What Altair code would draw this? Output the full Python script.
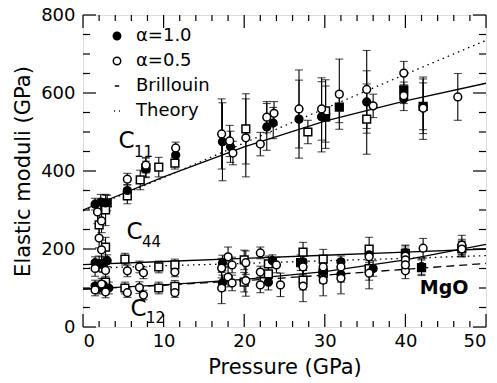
import altair as alt
import pandas as pd

# ---------------- data ----------------
# filled circles (alpha=1.0): C11, C44, C12 groups
fc_p = [1.5, 2.2, 2.8, 5.5, 7.8, 11.5, 17.3, 18.3, 22.8, 23.6, 26.8, 29.6, 35.2, 39.8, 42.2,
        1.5, 2.5, 3.0, 17.3, 23.5, 27.3, 32.0, 35.5, 40.0, 47.0,
        1.5, 2.5, 3.2, 17.3, 23.0, 29.8, 32.0, 36.0, 42.0]
fc_c = [315, 320, 318, 350, 405, 441, 475, 462, 513, 523, 533, 539, 577, 585, 566,
        165, 160, 170, 164, 170, 167, 167, 185, 190, 205,
        105, 108, 100, 113, 115, 141, 135, 150, 155]
fc_e = [15, 20, 20, 15, 20, 15, 100, 40, 60, 40, 100, 90, 80, 30, 70,
        15, 20, 15, 20, 15, 20, 15, 20, 20, 20,
        15, 15, 15, 20, 20, 25, 20, 20, 20]

# open circles (alpha=0.5)
oc_p = [1.8, 2.3, 2.0, 5.5, 7.8, 11.5, 17.2, 18.2, 18.6, 20.2, 22.0, 22.8, 23.7, 26.8, 29.6, 31.8, 35.2, 36.0, 39.8, 39.8, 42.2, 46.5,
        1.5, 2.3, 2.8, 5.5, 7.0, 7.5, 11.4, 17.2, 18.0, 18.5, 20.2, 22.0, 22.0, 24.0, 27.3, 29.8, 32.0, 35.5, 40.0, 40.0, 42.2, 47.0,
        1.5, 2.3, 2.8, 5.5, 7.0, 7.5, 11.4, 17.2, 18.0, 18.5, 20.2, 22.0, 24.5, 27.3, 29.8, 32.0, 35.5, 40.0, 40.0, 47.0]
oc_c = [295, 272, 228, 379, 415, 459, 495, 477, 446, 485, 469, 538, 548, 559, 559, 597, 609, 567, 651, 593, 561, 590,
        150, 198, 145, 144, 154, 139, 141, 151, 180, 159, 165, 190, 141, 159, 154, 154, 154, 180, 182, 172, 202, 210,
        95, 110, 90, 88, 101, 82, 88, 100, 128, 113, 119, 108, 108, 105, 120, 125, 138, 144, 159, 200]
oc_e = [30, 30, 25, 15, 20, 15, 90, 40, 30, 100, 30, 40, 30, 100, 80, 90, 100, 30, 30, 20, 80, 60,
        20, 25, 20, 15, 15, 15, 12, 25, 25, 20, 30, 15, 15, 20, 20, 25, 20, 25, 20, 20, 25, 25,
        15, 15, 15, 12, 15, 12, 12, 40, 25, 20, 40, 20, 30, 40, 40, 40, 40, 20, 20, 20]

# filled squares
fs_p = [3.0, 7.8, 30.1, 31.8, 39.8, 42.2, 2.0, 27.0, 40.0, 2.0, 29.8, 42.0]
fs_c = [318, 408, 538, 564, 608, 566, 162, 165, 188, 100, 138, 152]
fs_e = [20, 25, 80, 40, 20, 60, 20, 20, 20, 15, 25, 20]

# open squares
os_p = [2.8, 2.0, 5.5, 7.1, 9.4, 11.4, 20.2, 27.9, 30.1, 35.2,
        2.8, 5.2, 9.4, 11.4, 20.0, 23.0, 27.3, 29.8, 35.5, 47.0,
        2.8, 5.2, 9.4, 11.4, 20.0, 23.0, 27.3, 29.8, 35.5]
os_c = [300, 262, 336, 377, 410, 420, 508, 500, 554, 533,
        205, 174, 154, 159, 172, 162, 192, 174, 200, 200,
        115, 100, 100, 104, 115, 136, 120, 138, 150]
os_e = [40, 30, 20, 25, 25, 15, 90, 30, 80, 90,
        25, 15, 15, 15, 25, 20, 25, 25, 30, 20,
        15, 15, 15, 15, 25, 20, 25, 25, 30]

# curves
line_p = [0, 10, 20, 30, 40, 50]
c11_fit = [300, 385, 462, 528, 580, 625]
c11_theory = [298, 383, 472, 560, 648, 735]
c44_fit = [160, 168, 176, 184, 192, 200]
c44_theory = [150, 157, 163, 170, 176, 183]
c12_fit = [97, 108, 122, 142, 172, 212]
c12_brillouin = [97, 107, 119, 133, 148, 163]

legend_labels = ["α=1.0", "α=0.5", "Brillouin", "Theory"]

ann_text = ["C", "C", "C"]
ann_p = [5.4, 6.4, 6.9]
ann_c = [478, 244, 46]
sub_text = ["11", "44", "12"]
sub_p = [7.5, 8.5, 9.0]
sub_c = [450, 218, 22]
mgo_text = ["MgO"]
mgo_p = [44.8]
mgo_c = [100]

x_major = [0, 10, 20, 30, 40, 50]
x_minor = [v for v in range(0, 51, 2) if v % 10]
y_major = [0, 200, 400, 600, 800]
y_minor = [v for v in range(0, 801, 50) if v % 200]

# ---------------- tables ----------------
def table(p, c, e, kind, series):
    df = pd.DataFrame({"p": p, "c": c, "e": e})
    df["lo"] = df["c"] - df["e"]
    df["hi"] = df["c"] + df["e"]
    df["kind"] = kind
    df["series"] = series
    return df

fc = table(fc_p, fc_c, fc_e, "fc", "α=1.0")
oc = table(oc_p, oc_c, oc_e, "oc", "α=0.5")
fs = table(fs_p, fs_c, fs_e, "fs", "α=1.0")
osq = table(os_p, os_c, os_e, "os", "α=0.5")
allpts = pd.concat([fc, oc, fs, osq], ignore_index=True)
circles = pd.concat([fc, oc], ignore_index=True)

curve_names = ["c11_fit", "c11_theory", "c44_fit", "c44_theory", "c12_fit", "c12_brillouin"]
curve_vals = [c11_fit, c11_theory, c44_fit, c44_theory, c12_fit, c12_brillouin]
curves = pd.DataFrame({
    "p": [p for _ in curve_names for p in line_p],
    "c": [v for vals in curve_vals for v in vals],
    "curve": [n for n in curve_names for _ in line_p],
})

W, H = 403, 312
FONT = "DejaVu Sans"

xs = alt.Scale(domain=[0, 50], nice=False)
ys = alt.Scale(domain=[0, 800], nice=False)
xaxis = alt.Axis(values=x_major, title="Pressure (GPa)", ticks=False, domain=False, grid=False,
                 labelPadding=5, titlePadding=6, labelFontSize=18, titleFontSize=21,
                 titleFontWeight="normal", labelFont=FONT, titleFont=FONT)
yaxis = alt.Axis(values=y_major, title="Elastic moduli (GPa)", ticks=False, domain=False, grid=False,
                 labelPadding=8, titlePadding=7, labelFontSize=18, titleFontSize=21,
                 titleFontWeight="normal", labelFont=FONT, titleFont=FONT)


def X(f="p"):
    return alt.X(f + ":Q", scale=xs, axis=xaxis)


def Y(f="c"):
    return alt.Y(f + ":Q", scale=ys, axis=yaxis)


base_pts = alt.Chart(allpts)
err = base_pts.mark_rule(color="black", strokeWidth=1.1).encode(x=X(), y=Y("lo"), y2="hi:Q")
cap_lo = base_pts.mark_tick(color="black", orient="horizontal", size=8, thickness=1.1).encode(x=X(), y=Y("lo"))
cap_hi = base_pts.mark_tick(color="black", orient="horizontal", size=8, thickness=1.1).encode(x=X(), y=Y("hi"))


def curve_layer(name, dash=None):
    kw = dict(color="black", strokeWidth=1.3)
    if dash:
        kw["strokeDash"] = dash
    return alt.Chart(curves).transform_filter(alt.datum.curve == name).mark_line(**kw).encode(x=X(), y=Y())


lines = [
    curve_layer("c11_fit"),
    curve_layer("c11_theory", [1.5, 4]),
    curve_layer("c44_fit"),
    curve_layer("c44_theory", [1.5, 4]),
    curve_layer("c12_fit"),
    curve_layer("c12_brillouin", [8, 5]),
]

sq_f = alt.Chart(fs).mark_point(shape="square", filled=True, fill="black", stroke="black",
                                strokeWidth=1.5, size=60, opacity=1).encode(x=X(), y=Y())
sq_o = alt.Chart(osq).mark_point(shape="square", filled=True, fill="white", stroke="black",
                                 strokeWidth=1.5, size=60, opacity=1).encode(x=X(), y=Y())

leg = alt.Legend(title=None, orient="none", legendX=25, legendY=12, labelFontSize=18, labelFont=FONT,
                 labelColor="black", symbolSize=55, rowPadding=7, labelOffset=10, padding=0,
                 symbolStrokeColor="black", symbolStrokeWidth=1.5, symbolOpacity=1)
shape_scale = alt.Scale(domain=legend_labels,
                        range=["circle", "circle", "M-0.6,0L0.6,0",
                               "M-0.8,0L-0.55,0M0.55,0L0.8,0"])
fill_scale = alt.Scale(domain=legend_labels, range=["black", "white", "black", "black"])
stroke_scale = alt.Scale(domain=legend_labels, range=["black", "black", "black", "black"])
circ = alt.Chart(circles).mark_point(filled=True, strokeWidth=1.5, size=60, opacity=1).encode(
    x=X(), y=Y(),
    shape=alt.Shape("series:N", scale=shape_scale, legend=leg),
    fill=alt.Fill("series:N", scale=fill_scale, legend=leg),
    stroke=alt.Stroke("series:N", scale=stroke_scale, legend=leg),
)

ann = alt.Chart(pd.DataFrame({"p": ann_p, "c": ann_c, "t": ann_text})).mark_text(
    font=FONT, fontSize=23, color="black", align="center", baseline="middle").encode(x=X(), y=Y(), text="t:N")
sub = alt.Chart(pd.DataFrame({"p": sub_p, "c": sub_c, "t": sub_text})).mark_text(
    font=FONT, fontSize=15, color="black", align="center", baseline="middle").encode(x=X(), y=Y(), text="t:N")
mgo = alt.Chart(pd.DataFrame({"p": mgo_p, "c": mgo_c, "t": mgo_text})).mark_text(
    font=FONT, fontSize=19, fontWeight="bold", color="black", align="center", baseline="middle").encode(
    x=X(), y=Y(), text="t:N")

# inward ticks on all four sides
def xticks(vals, length):
    d = alt.Chart(pd.DataFrame({"p": vals}))
    b = d.mark_rule(color="black", strokeWidth=1.2).encode(x=X(), y=alt.value(H), y2=alt.value(H - length))
    t = d.mark_rule(color="black", strokeWidth=1.2).encode(x=X(), y=alt.value(0), y2=alt.value(length))
    return [b, t]


def yticks(vals, length):
    d = alt.Chart(pd.DataFrame({"c": vals}))
    l = d.mark_rule(color="black", strokeWidth=1.2).encode(y=Y(), x=alt.value(0), x2=alt.value(length))
    r = d.mark_rule(color="black", strokeWidth=1.2).encode(y=Y(), x=alt.value(W), x2=alt.value(W - length))
    return [l, r]


ticks = xticks(x_major, 13) + xticks(x_minor, 6) + yticks(y_major, 13) + yticks(y_minor, 7)

chart = alt.layer(
    *ticks, err, cap_lo, cap_hi, *lines, sq_f, sq_o, circ, ann, sub, mgo
).properties(
    width=W, height=H,
    autosize=alt.AutoSizeParams(type="none"),
    padding={"left": 83, "top": 15, "right": 11, "bottom": 56},
).configure_view(
    stroke="black", strokeWidth=1.5
).configure_axis(
    labelColor="black", titleColor="black"
).configure(background="white")

chart.save("out.html", embed_options={"renderer": "svg", "actions": False})
